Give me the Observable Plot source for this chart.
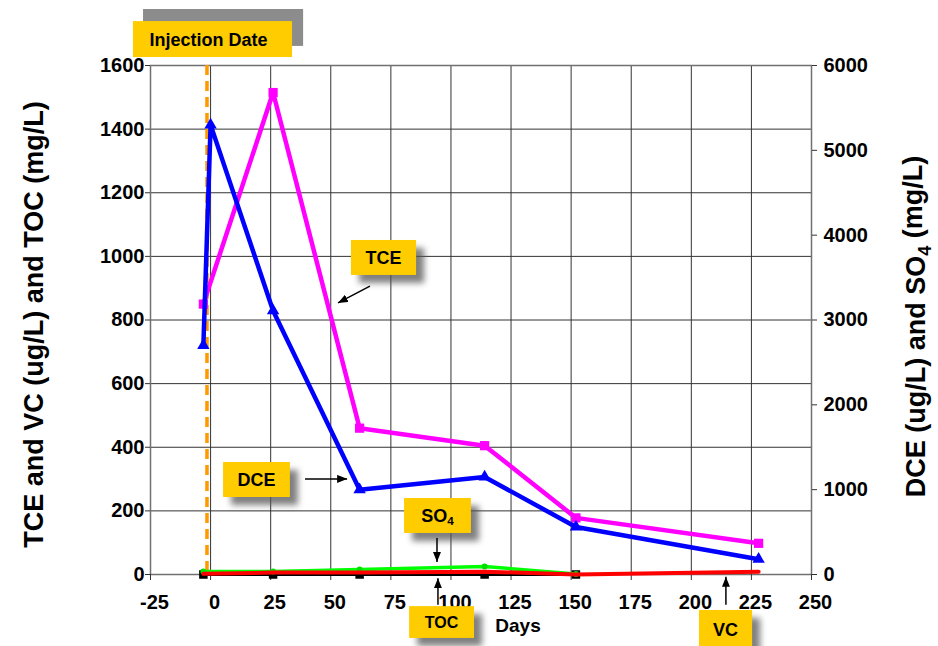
<!DOCTYPE html>
<html><head><meta charset="utf-8">
<script src="https://cdn.jsdelivr.net/npm/d3@7"></script>
<script src="https://cdn.jsdelivr.net/npm/@observablehq/plot@0.6"></script>
<style>
html,body{margin:0;padding:0;background:#fff;}
#chart{width:938px;height:646px;overflow:hidden;}
svg{overflow:visible;}
</style></head><body><div id="chart"></div>
<script>
// ---- data ----
const tceDays   = [-3, 26, 62, 114, 152, 228];
const tceValues = [850, 1515, 460, 405, 178, 98];          // ug/L, left axis
const dceDays   = [-3, 0, 26, 62, 114, 152, 228];
const dceValues = [2700, 5300, 3110, 1000, 1150, 560, 180]; // ug/L, right axis
const so4Days   = [-3, 26, 62, 114, 152];
const so4Values = [35, 35, 60, 95, 5];                     // mg/L, right axis
const tocDays   = [-3, 26, 62, 114, 152];
const tocValues = [0, 0, 0, 0, 0];                         // mg/L, left axis
const vcDays    = [-3, 26, 62, 114, 152, 228];
const vcValues  = [2, 6, 6, 9, 0, 9];                      // ug/L, left axis
const injectionDay = [-1.5];
const xTicks     = [-25, 0, 25, 50, 75, 100, 125, 150, 175, 200, 225, 250];
const leftTicks  = [0, 200, 400, 600, 800, 1000, 1200, 1400, 1600];
const rightTicks = [0, 1000, 2000, 3000, 4000, 5000, 6000];

const ratio = 6000 / 1600; // right-axis units per left-axis unit
const FONT = "'Liberation Sans', Arial, Helvetica, sans-serif";

const rows = (days, vals) => days.map((d, i) => ({day: d, value: vals[i]}));
const tce = rows(tceDays, tceValues);
const dce = rows(dceDays, dceValues);
const so4 = rows(so4Days, so4Values);
const toc = rows(tocDays, tocValues);
const vc  = rows(vcDays, vcValues);

const chart = Plot.plot({
  width: 938, height: 646,
  marginLeft: 150, marginRight: 127, marginTop: 65, marginBottom: 72,
  style: {fontFamily: FONT, fontSize: "20px", fontWeight: "bold", color: "#000", background: "#fff", overflow: "visible"},
  x: {domain: [-25, 250]},
  y: {domain: [0, 1600]},
  marks: [
    Plot.gridX(xTicks.slice(1, -1), {stroke: "#333", strokeOpacity: 1, strokeWidth: 1}),
    Plot.gridY(leftTicks.slice(1, -1), {stroke: "#333", strokeOpacity: 1, strokeWidth: 1}),
    Plot.frame({stroke: "#707070", strokeWidth: 1.5}),
    Plot.axisX(xTicks, {tickSize: 6, fill: "none", label: null, stroke: "#333"}),
    Plot.axisX(xTicks, {tickSize: 6, tickPadding: 14, stroke: "none", dx: 4, label: null, tickFormat: d => String(d)}),
    Plot.axisY(leftTicks, {anchor: "left", tickSize: 5, tickPadding: 1, label: null, stroke: "#333", tickFormat: d => String(d)}),
    Plot.axisY(rightTicks.map(v => v / ratio), {anchor: "right", tickSize: 5, tickPadding: 7, label: null, stroke: "#333",
      tickFormat: d => String(Math.round(d * ratio))}),
    Plot.ruleX(injectionDay, {stroke: "#FF9900", strokeWidth: 3.5, strokeDasharray: "10,6"}),
    // TCE
    Plot.line(tce, {x: "day", y: "value", stroke: "#FF00FF", strokeWidth: 4.5}),
    Plot.dot(tce, {x: "day", y: "value", symbol: "square", fill: "#FF00FF", r: 5.2}),
    // DCE (right axis)
    Plot.line(dce, {x: "day", y: d => d.value / ratio, stroke: "#0000FF", strokeWidth: 4.5}),
    Plot.dot(dce, {x: "day", y: d => d.value / ratio, symbol: "triangle", fill: "#0000FF", r: 4.6}),
    // TOC
    Plot.line(toc, {x: "day", y: "value", stroke: "#000", strokeWidth: 3}),
    Plot.dot(toc, {x: "day", y: "value", symbol: "square", fill: "#000", r: 4.8}),
    // SO4 (right axis)
    Plot.line(so4, {x: "day", y: d => d.value / ratio, stroke: "#00FF00", strokeWidth: 3.5}),
    Plot.dot(so4, {x: "day", y: d => d.value / ratio, fill: "#00E000", r: 3}),
    // VC
    Plot.line(vc, {x: "day", y: "value", stroke: "#FF0000", strokeWidth: 4})
  ]
});
document.getElementById("chart").appendChild(chart);

// ---- annotations (positions in data units, placed through the chart's scales) ----
const sx = chart.scale("x"), sy = chart.scale("y");
const X = v => sx.apply(v), Y = v => sy.apply(v);
const svg = d3.select(chart);
const defs = svg.append("defs");
defs.append("filter").attr("id", "shadowBlur").attr("x", "-30%").attr("y", "-30%").attr("width", "160%").attr("height", "160%")
  .append("feGaussianBlur").attr("stdDeviation", 3);
defs.append("marker").attr("id", "arrowHead").attr("viewBox", "0 0 10 8").attr("refX", 10).attr("refY", 4)
  .attr("markerWidth", 10).attr("markerHeight", 8).attr("markerUnits", "userSpaceOnUse").attr("orient", "auto")
  .append("path").attr("d", "M0,0L10,4L0,8z").attr("fill", "#000");

const YELLOW = "#FFCC00";
const g = svg.append("g").attr("font-family", FONT).attr("font-weight", "bold");

// Injection date label
const inj = {x1: -32.1, x2: 34.1, y1: 1625, y2: 1738, sx1: -27.9, sx2: 38.7, sy1: 1660, sy2: 1776};
g.append("rect").attr("x", X(inj.sx1)).attr("y", Y(inj.sy2)).attr("width", X(inj.sx2) - X(inj.sx1)).attr("height", Y(inj.sy1) - Y(inj.sy2)).attr("fill", "#8c8c8c");
g.append("rect").attr("x", X(inj.x1)).attr("y", Y(inj.y2)).attr("width", X(inj.x2) - X(inj.x1)).attr("height", Y(inj.y1) - Y(inj.y2)).attr("fill", YELLOW);
g.append("text").attr("x", (X(inj.x1) + X(inj.x2)) / 2 - 4).attr("y", (Y(inj.y1) + Y(inj.y2)) / 2).attr("dy", "0.36em")
  .attr("text-anchor", "middle").attr("font-size", 18).attr("fill", "#000").text("Injection Date");

const callouts = [
  {label: "TCE", x1: 58.6, x2: 85.7, y1: 940, y2: 1050, ax1: 66.5, ay1: 905, ax2: 53.2, ay2: 852, size: 18},
  {label: "DCE", x1: 5.4, x2: 33.2, y1: 242, y2: 352, ax1: 39.5, ay1: 299, ax2: 57.0, ay2: 299, size: 18},
  {label: "SO", sub: "4", x1: 80.7, x2: 108.5, y1: 129, y2: 239, ax1: 94.4, ay1: 113, ax2: 94.4, ay2: 38, size: 18},
  {label: "TOC", x1: 82.8, x2: 109.8, y1: -201, y2: -101, ax1: 94.8, ay1: -97, ax2: 94.8, ay2: -13, size: 16},
  {label: "VC", x1: 203.4, x2: 225.5, y1: -235, y2: -113, ax1: 214.6, ay1: -97, ax2: 214.6, ay2: -9, size: 18}
];
for (const c of callouts) {
  const bx = X(c.x1), by = Y(c.y2), bw = X(c.x2) - X(c.x1), bh = Y(c.y1) - Y(c.y2);
  g.append("rect").attr("x", bx + 8).attr("y", by + 8).attr("width", bw).attr("height", bh)
    .attr("fill", "#555").attr("opacity", 0.75).attr("filter", "url(#shadowBlur)");
  g.append("rect").attr("x", bx).attr("y", by).attr("width", bw).attr("height", bh).attr("fill", YELLOW);
  const t = g.append("text").attr("x", bx + bw / 2).attr("y", by + bh / 2).attr("dy", "0.36em")
    .attr("text-anchor", "middle").attr("font-size", c.size).attr("fill", "#000");
  t.append("tspan").text(c.label);
  if (c.sub) t.append("tspan").attr("font-size", c.size * 0.65).attr("dy", "0.3em").text(c.sub);
  g.append("line").attr("x1", X(c.ax1)).attr("y1", Y(c.ay1)).attr("x2", X(c.ax2)).attr("y2", Y(c.ay2))
    .attr("stroke", "#000").attr("stroke-width", 1.5).attr("marker-end", "url(#arrowHead)");
}

// x-axis title "Days"
g.append("text").attr("x", X(128.1)).attr("y", Y(-160)).attr("dy", "0.36em").attr("text-anchor", "middle")
  .attr("font-size", 19).attr("fill", "#000").text("Days");

// y-axis titles
const midY = (Y(0) + Y(1600)) / 2;
g.append("text").attr("transform", `translate(33,${midY + 5}) rotate(-90)`).attr("dy", "0.36em")
  .attr("text-anchor", "middle").attr("font-size", 27).attr("fill", "#000")
  .text("TCE and VC (ug/L) and TOC (mg/L)");
const rt = g.append("text").attr("transform", `translate(915,${midY + 7}) rotate(-90)`).attr("dy", "0.36em")
  .attr("text-anchor", "middle").attr("font-size", 27).attr("fill", "#000");
rt.append("tspan").text("DCE (ug/L) and SO");
rt.append("tspan").attr("font-size", 18).attr("dy", "0.35em").text("4");
rt.append("tspan").attr("dy", "-0.35em").text(" (mg/L)");
</script></body></html>
